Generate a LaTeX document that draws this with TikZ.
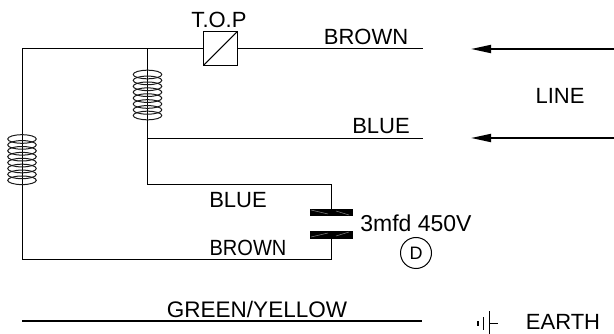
\documentclass[tikz,border=0pt]{standalone}
\usepackage{fontspec}
\setmainfont{Liberation Sans}
\usetikzlibrary{arrows.meta}
\tikzset{x=1pt,y=-1pt,
 wire/.style={line width=1pt,draw=black},
 lbl/.style={inner sep=0pt,anchor=base,font=\fontsize{22}{22}\selectfont},
 turn/.style={line width=1pt,draw=black!90},
 plate/.style={fill=black,draw=none,minimum width=43pt,minimum height=7.3pt,inner sep=0pt},
 platemark/.style={line width=.5pt,draw=black!45},
 topbox/.style={draw=black,line width=1pt,minimum size=34pt,inner sep=0pt,path picture={\draw[line width=1pt,black] (path picture bounding box.south west)--(path picture bounding box.north east);}},
 linearrow/.style={line width=1.8pt,-{Triangle[length=20pt,width=8pt]}}}
\begin{document}
\begin{tikzpicture}
\useasboundingbox (0,0) rectangle (614,334);
\node[topbox] (top) at (220.3,48.5) {};
\coordinate (tl) at (22,48.5);
\coordinate (tj) at (147.5,48.5);
\coordinate (bre) at (423,48.5);
\coordinate (ble) at (423,139);
\coordinate (blj) at (147.5,139);
\coordinate (cj) at (147.5,185);
\coordinate (cr) at (331,185);
\coordinate (bl) at (22,259.5);
\coordinate (br) at (331,259.5);
\draw[wire] (top.west) -- (tl) -- (bl) -- (br) -- (331,235);
\draw[wire] (tj) -- (cj) -- (cr) -- (331,212);
\draw[wire] (blj) -- (ble);
\draw[wire] (top.east) -- (bre);
\node[plate] (p1) at (331,212.5) {};
\node[plate] (p2) at (331,235) {};
\draw[platemark] (311,210) -- (328,214) (336,211) -- (349,215);
\draw[platemark] (311,237) -- (328,233) (336,236) -- (349,232);
\foreach \cy in {74.5,80.4,86.3,92.2,98.1,104,109.9,115.5}{\draw[turn] (147.5,\cy) ellipse (14.3 and 4.3);}
\foreach \cy in {139,144.9,150.8,156.7,162.6,168.5,174.4,180.3}{\draw[turn] (22,\cy) ellipse (14.3 and 4.3);}
\node[lbl] (ltop) at (219,28) {T.O.P};
\node[lbl] (l1) at (366,45) {BROWN};
\node[lbl] (l2) at (381,134) {BLUE};
\node[lbl] (l3) at (238,208) {BLUE};
\node[lbl,xscale=.91] (l4) at (248,255) {BROWN};
\node[lbl,font=\fontsize{23}{23}\selectfont] (l5) at (416,232) {3mfd 450V};
\node[circle,draw=black,line width=1pt,minimum size=31pt,inner sep=0pt,font=\fontsize{18}{18}\selectfont] (d) at (416,253) {D};
\node[lbl] (line) at (560,104) {LINE};
\coordinate (a1s) at (614,49);\coordinate (a1e) at (471,49);
\coordinate (a2s) at (614,138);\coordinate (a2e) at (471,138);
\draw[linearrow] (a1s) -- (a1e);
\draw[linearrow] (a2s) -- (a2e);
\coordinate (g1) at (22,321);\coordinate (g2) at (422,321);
\draw[wire,line width=1.4pt] (g1) -- (g2);
\node[lbl,font=\fontsize{22.5}{22.5}\selectfont] (gy) at (257,317) {GREEN/YELLOW};
\node[lbl] (earth) at (563,329) {EARTH};
\draw[line width=1.6pt] (478,321) -- (478,326);
\draw[line width=1pt] (483,317) -- (483,330);
\draw[line width=1pt] (489,311) -- (489,334);
\draw[line width=1pt] (489,323) -- (498,323);
\end{tikzpicture}
\end{document}
